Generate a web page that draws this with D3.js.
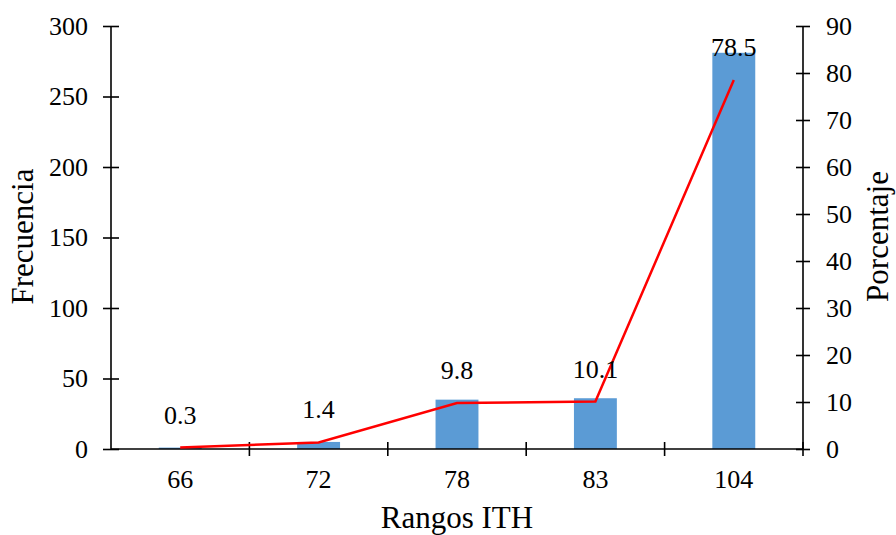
<!DOCTYPE html>
<html>
<head>
<meta charset="utf-8">
<script src="https://cdn.jsdelivr.net/npm/d3@7"></script>
<style>
  body { margin: 0; background: #fff; }
  svg text { font-family: "Liberation Serif", "DejaVu Serif", "Times New Roman", serif !important; fill: #000; }
</style>
</head>
<body>
<div id="chartid"></div>
<script>
"use strict"

var rangos = ["66", "72", "78", "83", "104"];
var frecuencia = [1, 5, 35, 36, 281];
var porcentaje = [0.3, 1.4, 9.8, 10.1, 78.5];
var ticksLeft = [0, 50, 100, 150, 200, 250, 300];
var ticksRight = [0, 10, 20, 30, 40, 50, 60, 70, 80, 90];

var serif = "'Liberation Serif', 'DejaVu Serif', serif";

var svg = d3.select("#chartid").append("svg")
  .attr("width", 896)
  .attr("height", 535)
  .attr("font-family", serif);

var margin = { top: 26, right: 93, bottom: 86, left: 111 },
  width = 896 - margin.left - margin.right,
  height = 535 - margin.top - margin.bottom;

var x = d3.scaleBand().domain(rangos).range([margin.left, margin.left + width]);
var yL = d3.scaleLinear().domain([0, 300]).range([margin.top + height, margin.top]);
var yR = d3.scaleLinear().domain([0, 90]).range([margin.top + height, margin.top]);

var barW = x.bandwidth() * 0.31;

// bars
svg.append("g").selectAll("rect")
  .data(frecuencia)
  .enter().append("rect")
  .attr("x", function(d, i) { return x(rangos[i]) + x.bandwidth() / 2 - barW / 2; })
  .attr("y", function(d) { return yL(d); })
  .attr("width", barW)
  .attr("height", function(d) { return yL(0) - yL(d); })
  .attr("fill", "#5b9bd5");

// axes
var leftAxis = svg.append("g")
  .attr("transform", "translate(" + margin.left + ",0)")
  .call(d3.axisLeft(yL).tickValues(ticksLeft).tickSize(8).tickPadding(15));

var rightAxis = svg.append("g")
  .attr("transform", "translate(" + (margin.left + width) + ",0)")
  .call(d3.axisRight(yR).tickValues(ticksRight).tickSize(7).tickPadding(16));

var bottomAxis = svg.append("g")
  .attr("transform", "translate(0," + yL(0) + ")")
  .call(d3.axisBottom(x).tickSize(0).tickPadding(21));

[leftAxis, rightAxis, bottomAxis].forEach(function(g) {
  g.attr("font-family", serif).attr("font-size", 26);
  g.select(".domain").attr("stroke", "#000").attr("stroke-width", 1.6);
  g.selectAll(".tick line").attr("stroke", "#000").attr("stroke-width", 1.6);
  g.selectAll(".tick text").attr("fill", "#000");
});
leftAxis.selectAll(".tick line").attr("x1", 8).attr("x2", -8);
rightAxis.selectAll(".tick line").attr("x1", -7).attr("x2", 7);
leftAxis.select(".domain").attr("d", "M0," + yL(300) + "V" + yL(0));
rightAxis.select(".domain").attr("d", "M0," + yR(90) + "V" + yR(0));
bottomAxis.select(".domain").attr("d", "M" + margin.left + ",0H" + (margin.left + width));

// category boundary ticks on the x axis
var bounds = rangos.slice(1).map(function(c) { return x(c); }).concat([margin.left + width]);
bottomAxis.selectAll(".bound")
  .data(bounds)
  .enter().append("line")
  .attr("class", "bound")
  .attr("x1", function(d) { return d; })
  .attr("x2", function(d) { return d; })
  .attr("y1", -7)
  .attr("y2", 7)
  .attr("stroke", "#000")
  .attr("stroke-width", 1.6);

// line for percentage
var line = d3.line()
  .x(function(d, i) { return x(rangos[i]) + x.bandwidth() / 2; })
  .y(function(d) { return yR(d); });

svg.append("path")
  .datum(porcentaje)
  .attr("fill", "none")
  .attr("stroke", "#ff0000")
  .attr("stroke-width", 2.5)
  .attr("d", line);

// data labels
svg.append("g").selectAll("text")
  .data(porcentaje)
  .enter().append("text")
  .attr("x", function(d, i) { return x(rangos[i]) + x.bandwidth() / 2; })
  .attr("y", function(d) { return yR(d) - 24; })
  .attr("text-anchor", "middle")
  .style("font-size", "26px")
  .text(function(d) { return d.toFixed(1); });

// axis titles
svg.append("text")
  .attr("transform", "translate(33,236.5) rotate(-90)")
  .attr("text-anchor", "middle")
  .style("font-size", "31px")
  .text("Frecuencia");

svg.append("text")
  .attr("transform", "translate(888,236.5) rotate(-90)")
  .attr("text-anchor", "middle")
  .style("font-size", "31px")
  .text("Porcentaje");

svg.append("text")
  .attr("x", margin.left + width / 2)
  .attr("y", 528)
  .attr("text-anchor", "middle")
  .style("font-size", "31px")
  .text("Rangos ITH");
</script>
</body>
</html>
